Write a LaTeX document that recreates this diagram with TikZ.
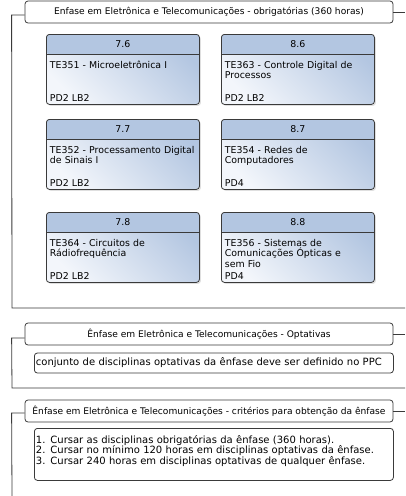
\documentclass[tikz,border=0pt]{standalone}
\usepackage{fontspec}
\setmainfont{DejaVu Sans}
\usetikzlibrary{shadows}

\definecolor{discblue}{HTML}{B3C6E1}
\definecolor{discwhite}{HTML}{F3F6FB}
\definecolor{framegray}{HTML}{3A3A3A}

\begin{document}
\begin{tikzpicture}[x=1pt,y=-1pt,line width=0.8pt,framegray]
  \tikzstyle{title}=[draw,rounded corners=3pt,fill=white,text=black,
                     minimum width=368pt,minimum height=22pt,inner sep=0pt,
                     font=\fontsize{9.1}{10.6}\selectfont]
  \tikzstyle{disc}=[draw,rounded corners=3pt,anchor=north west,inner sep=0pt,
                    minimum width=153pt,minimum height=70pt,
                    top color=discblue,bottom color=discwhite,shading angle=-45,
                    drop shadow={shadow xshift=1.5pt,shadow yshift=-1.5pt,opacity=0.25},
                    path picture={\fill[discblue] (path picture bounding box.north west)
                      rectangle ([yshift=-20pt]path picture bounding box.north east);}]
  \tikzstyle{head}=[text=black,font=\fontsize{9.4}{10.7}\selectfont]
  \tikzstyle{body}=[anchor=base west,inner sep=0pt,text=black,text width=150pt,
                    align=left,font=\fontsize{9.4}{10.7}\selectfont]
  \tikzstyle{note}=[draw,rounded corners=3pt,text=black,
                    font=\fontsize{10}{10.5}\selectfont]

  \useasboundingbox (0,0) rectangle (405,496);

  % obrigatorias
  \node[title] (obr) at (209,12)
    {Enfase em Eletrônica e Telecomunicações - obrigatórias (360 horas)};
  \draw (obr.west) ++(0,3) -- ++(-13,0) -- (12,308) -- (405,308);
  \draw (obr.east) -- (405,12);

  \node[disc] (d76) at (46,34) {};
  \node[disc] (d86) at (221,34) {};
  \node[disc] (d77) at (46,119) {};
  \node[disc] (d87) at (221,119) {};
  \node[disc] (d78) at (46,212) {};
  \node[disc] (d88) at (221,212) {};

  \draw ([yshift=-20pt]d76.north west) -- ([yshift=-20pt]d76.north east);
  \draw ([yshift=-20pt]d86.north west) -- ([yshift=-20pt]d86.north east);
  \draw ([yshift=-20pt]d77.north west) -- ([yshift=-20pt]d77.north east);
  \draw ([yshift=-20pt]d87.north west) -- ([yshift=-20pt]d87.north east);
  \draw ([yshift=-20pt]d78.north west) -- ([yshift=-20pt]d78.north east);
  \draw ([yshift=-20pt]d88.north west) -- ([yshift=-20pt]d88.north east);

  \node[head] at ([yshift=-10pt]d76.north) {7.6};
  \node[head] at ([yshift=-10pt]d86.north) {8.6};
  \node[head] at ([yshift=-10pt]d77.north) {7.7};
  \node[head] at ([yshift=-10pt]d87.north) {8.7};
  \node[head] at ([yshift=-10pt]d78.north) {7.8};
  \node[head] at ([yshift=-10pt]d88.north) {8.8};

  \node[body] (n76) at ([xshift=3.5pt,yshift=-34pt]d76.north west)
    {TE351 - Microeletrônica I};
  \node[body] (n86) at ([xshift=3.5pt,yshift=-34pt]d86.north west)
    {TE363 - Controle Digital de\\Processos};
  \node[body] (n77) at ([xshift=3.5pt,yshift=-34pt]d77.north west)
    {TE352 - Processamento Digital\\de Sinais I};
  \node[body] (n87) at ([xshift=3.5pt,yshift=-34pt]d87.north west)
    {TE354 - Redes de\\Computadores};
  \node[body] (n78) at ([xshift=3.5pt,yshift=-34pt]d78.north west)
    {TE364 - Circuitos de\\Rádiofrequência};
  \node[body] (n88) at ([xshift=3.5pt,yshift=-34pt]d88.north west)
    {TE356 - Sistemas de\\Comunicações Ópticas e\\sem Fio};

  \node[body] (c76) at ([xshift=3.5pt,yshift=3pt]d76.south west) {PD2 LB2};
  \node[body] (c86) at ([xshift=3.5pt,yshift=3pt]d86.south west) {PD2 LB2};
  \node[body] (c77) at ([xshift=3.5pt,yshift=3pt]d77.south west) {PD2 LB2};
  \node[body] (c87) at ([xshift=3.5pt,yshift=3pt]d87.south west) {PD4};
  \node[body] (c78) at ([xshift=3.5pt,yshift=3pt]d78.south west) {PD2 LB2};
  \node[body] (c88) at ([xshift=3.5pt,yshift=3pt]d88.south west) {PD4};

  % optativas
  \node[title] (opt) at (209,334)
    {Ênfase em Eletrônica e Telecomunicações - Optativas};
  \draw (opt.west) ++(0,4) -- ++(-13,0) -- (12,388) -- (405,388);
  \draw (opt.east) -- (405,334);
  \node[note,anchor=west,inner sep=1.5pt,minimum height=20pt,text width=356pt,
        align=left] (conj) at (34,363)
    {conjunto de disciplinas optativas da ênfase deve ser definido no PPC};

  % criterios
  \node[title] (cri) at (209,411)
    {Ênfase em Eletrônica e Telecomunicações - critérios para obtenção da ênfase};
  \draw (cri.west) ++(0,2) -- ++(-13,0) -- (12,496);
  \draw (cri.east) -- (405,411);
  \node[note,anchor=north west,minimum width=359pt,minimum height=52pt] (box) at (34,428) {};
  \node[anchor=base west,inner sep=0pt,text=black,text width=355pt,align=left,
        font=\fontsize{10}{10.2}\selectfont] (lst) at ([xshift=1.5pt,yshift=-15.6pt]box.north west)
    {1. Cursar as disciplinas obrigatórias da ênfase (360 horas).\\
     2. Cursar no mínimo 120 horas em disciplinas optativas da ênfase.\\
     3. Cursar 240 horas em disciplinas optativas de qualquer ênfase.};
\end{tikzpicture}
\end{document}
